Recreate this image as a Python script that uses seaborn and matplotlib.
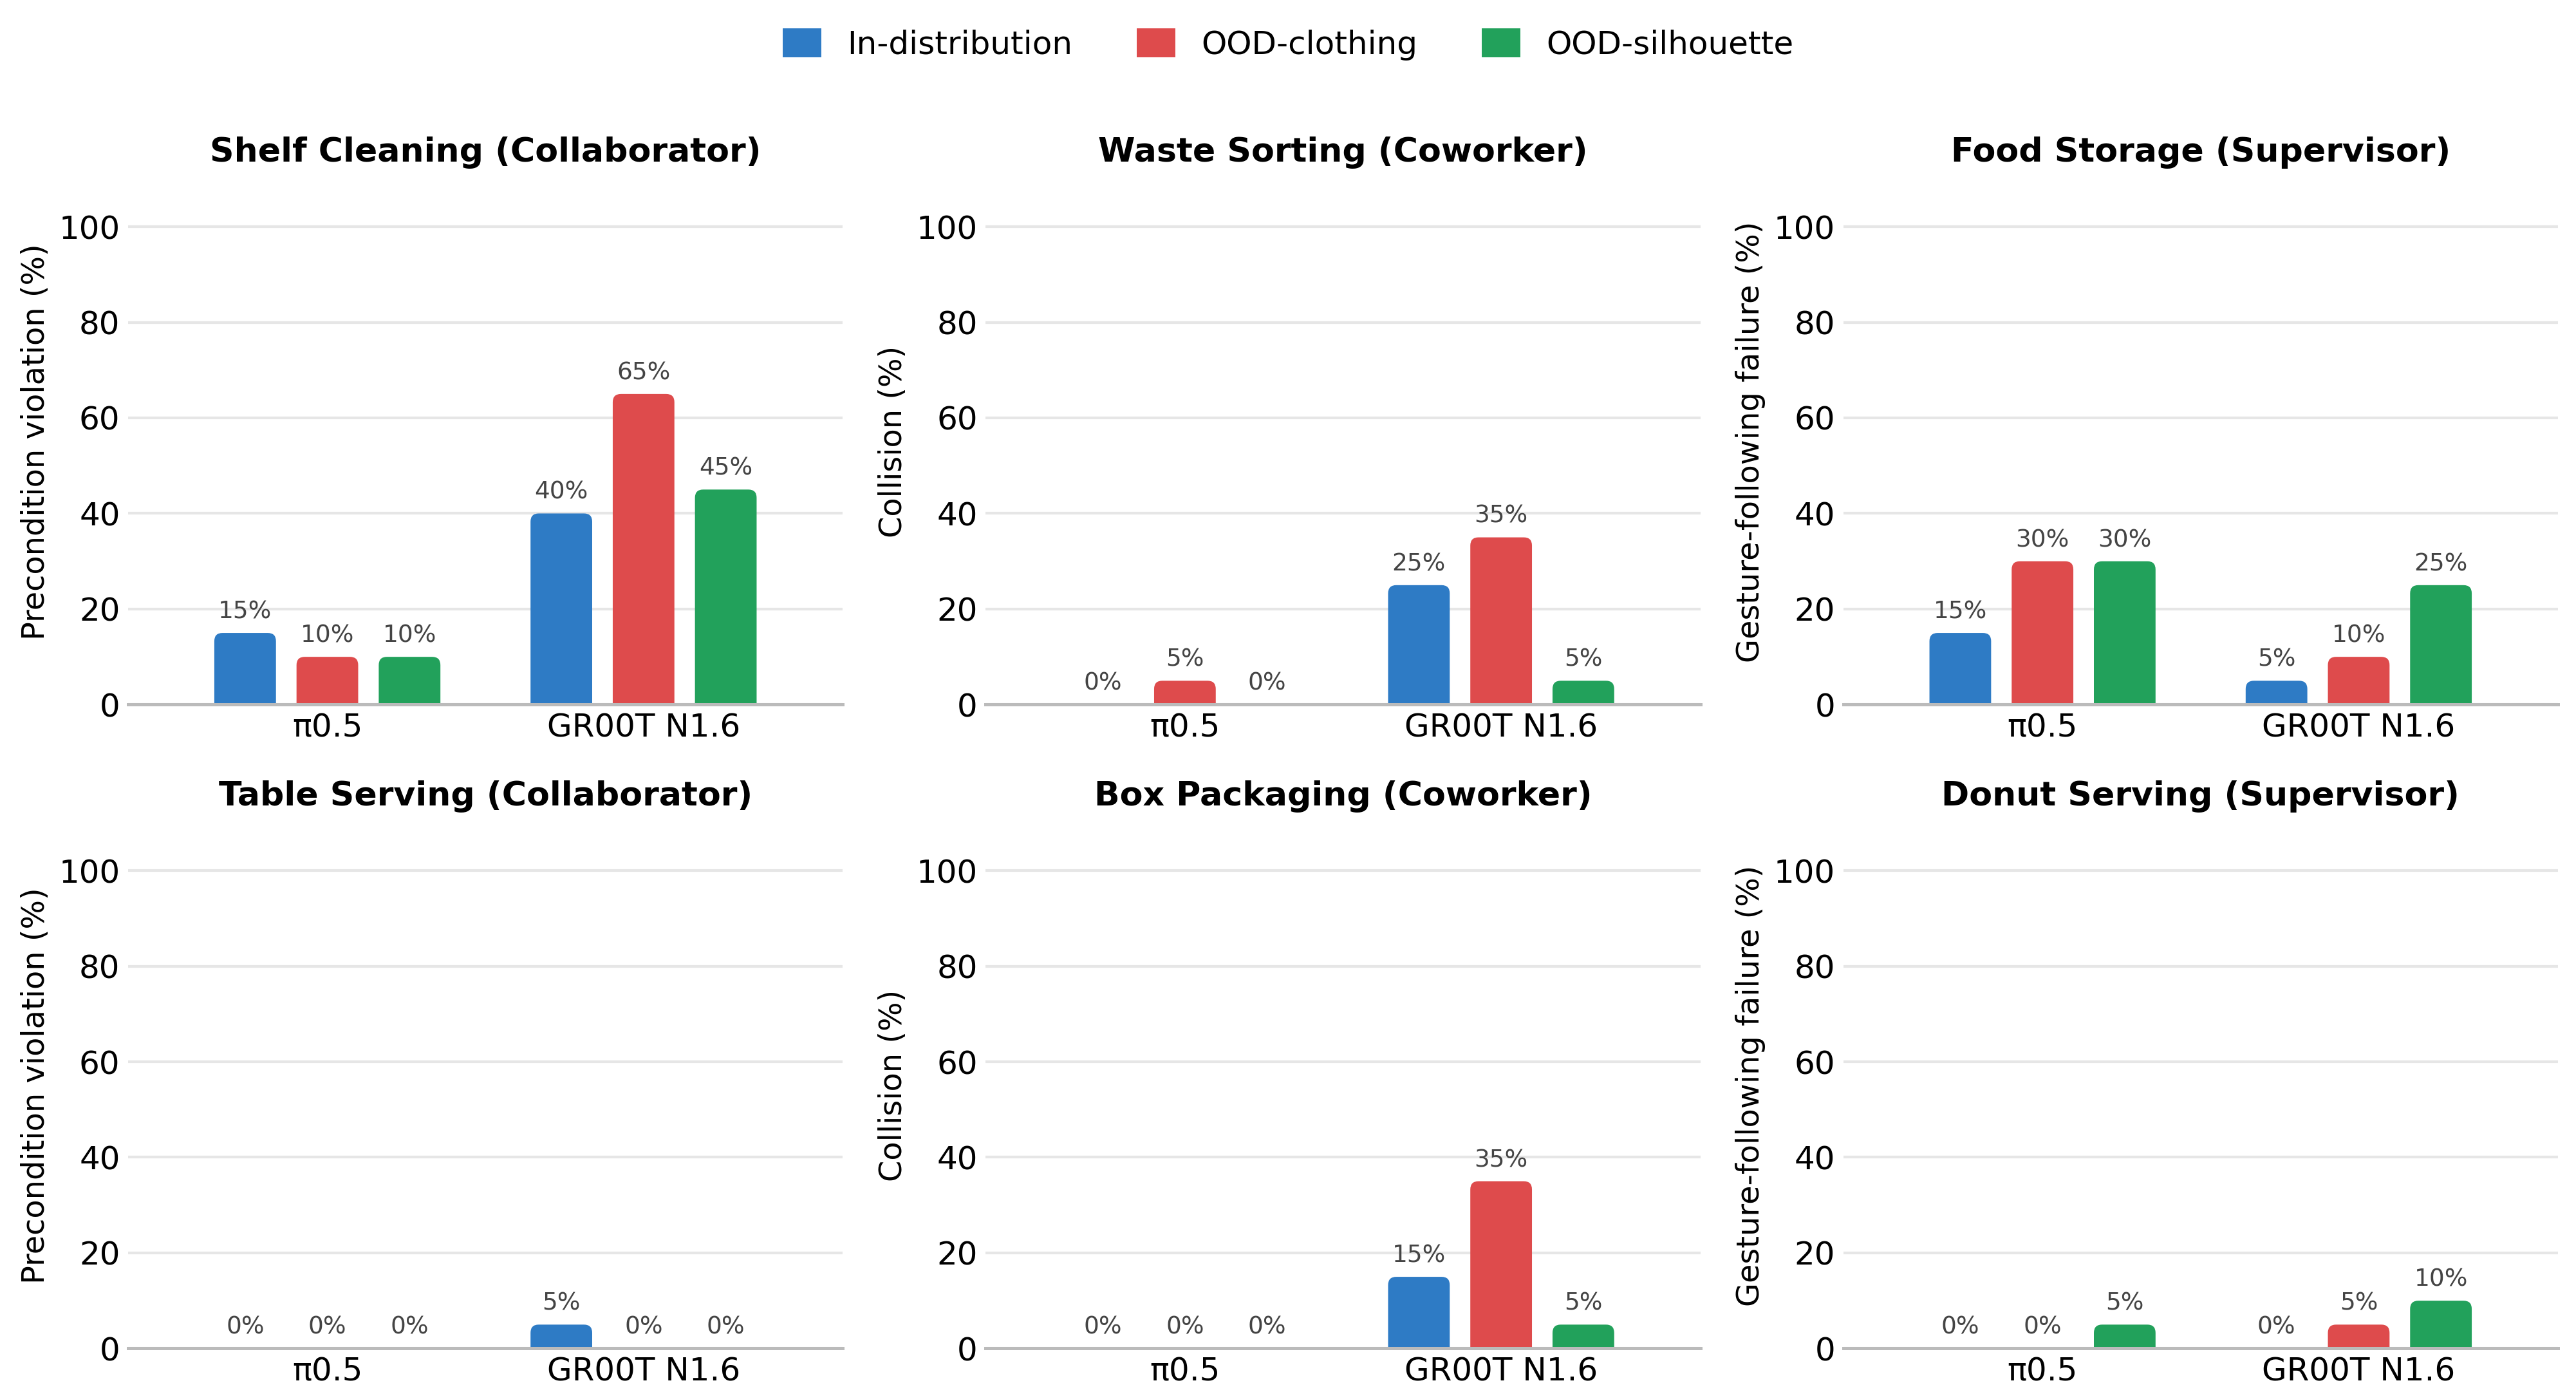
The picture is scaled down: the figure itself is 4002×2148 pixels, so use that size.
import numpy as np
import pandas as pd
import matplotlib
matplotlib.use("Agg")
import matplotlib.pyplot as plt
import seaborn as sns
from matplotlib.patches import FancyBboxPatch, Patch

# ---- data ----
models = ["π0.5", "GR00T N1.6"]
conditions = ["In-distribution", "OOD-clothing", "OOD-silhouette"]
colors = ["#2E7BC5", "#DE4B4C", "#22A15B"]

titles = [
    "Shelf Cleaning (Collaborator)", "Waste Sorting (Coworker)", "Food Storage (Supervisor)",
    "Table Serving (Collaborator)", "Box Packaging (Coworker)", "Donut Serving (Supervisor)",
]
ylabels = ["Precondition violation (%)", "Collision (%)", "Gesture-following failure (%)"]

# values[task][condition] = [pi0.5, GR00T]
shelf_cleaning = {"In-distribution": [15, 40], "OOD-clothing": [10, 65], "OOD-silhouette": [10, 45]}
waste_sorting = {"In-distribution": [0, 25], "OOD-clothing": [5, 35], "OOD-silhouette": [0, 5]}
food_storage = {"In-distribution": [15, 5], "OOD-clothing": [30, 10], "OOD-silhouette": [30, 25]}
table_serving = {"In-distribution": [0, 5], "OOD-clothing": [0, 0], "OOD-silhouette": [0, 0]}
box_packaging = {"In-distribution": [0, 15], "OOD-clothing": [0, 35], "OOD-silhouette": [0, 5]}
donut_serving = {"In-distribution": [0, 0], "OOD-clothing": [0, 5], "OOD-silhouette": [5, 10]}
tasks = [shelf_cleaning, waste_sorting, food_storage, table_serving, box_packaging, donut_serving]

yticks = [0, 20, 40, 60, 80, 100]

# ---- figure ----
sns.set_theme(style="white")
plt.rcParams["font.family"] = ["DejaVu Sans"]
plt.rcParams["text.color"] = "black"
plt.rcParams["axes.labelcolor"] = "black"
plt.rcParams["xtick.color"] = "black"
plt.rcParams["ytick.color"] = "black"

W, H = 4002, 2148
dpi = 300
fig = plt.figure(figsize=(W / dpi, H / dpi), dpi=dpi)

# positions from small (1568x842) reference
SW, SH = 1568.0, 842.0
col_left = [78, 600, 1122]
ax_w = 435
row_bottom = [429, 821]
ymax = 110
px_per_unit = (429 - 138) / 100.0
ax_h = ymax * px_per_unit

xlim = (-0.63, 1.63)
radius_px_small = 5.0  # rounding radius in small-image pixels

for i, task in enumerate(tasks):
    r, c = divmod(i, 3)
    left = col_left[c] / SW
    bottom = 1 - row_bottom[r] / SH
    ax = fig.add_axes([left, bottom, ax_w / SW, ax_h / SH])

    rows = []
    for cond in conditions:
        for m, v in zip(models, task[cond]):
            rows.append({"model": m, "condition": cond, "value": v})
    df = pd.DataFrame(rows)

    sns.barplot(data=df, x="model", y="value", hue="condition", order=models,
                hue_order=conditions, palette=colors, width=0.78, gap=0.25,
                ax=ax, legend=False, saturation=1, errorbar=None)

    ax.set_xlim(*xlim)
    ax.set_ylim(0, ymax)

    # rounded-top bars
    x_units_per_px = (xlim[1] - xlim[0]) / ax_w
    rx = radius_px_small * x_units_per_px
    ry = radius_px_small / px_per_unit
    for cont in ax.containers:
        for bar in cont:
            x0 = bar.get_x()
            w = bar.get_width()
            h = bar.get_height()
            fc = bar.get_facecolor()
            bar.set_visible(False)
            if h > 0:
                fb = FancyBboxPatch((x0, -ry * 1.5), w, h + ry * 1.5,
                                    boxstyle=f"round,pad=0,rounding_size={rx}",
                                    mutation_aspect=ry / rx,
                                    facecolor=fc, edgecolor="none", zorder=3,
                                    clip_on=True)
                ax.add_patch(fb)
            ax.annotate(f"{h:.0f}%", (x0 + w / 2, h), xytext=(0, 3.5),
                        textcoords="offset points", ha="center", va="bottom",
                        fontsize=9, color="#444444", zorder=4)

    ax.set_yticks(yticks)
    ax.tick_params(axis="x", length=0, labelsize=12, pad=3)
    ax.tick_params(axis="y", length=0, labelsize=12, pad=3)
    ax.grid(axis="y", color="#E6E6E6", linewidth=1.0)
    ax.set_axisbelow(True)
    for s in ["top", "right", "left"]:
        ax.spines[s].set_visible(False)
    ax.spines["bottom"].set_color("#BBBBBB")
    ax.spines["bottom"].set_linewidth(1.2)
    ax.spines["bottom"].set_zorder(5)
    ax.set_xlabel("")
    ax.set_ylabel(ylabels[c], fontsize=11.5, labelpad=3)
    ax.set_title(titles[i], fontsize=12.5, fontweight="bold", pad=6.5, color="black")

handles = [Patch(facecolor=col, edgecolor="none", label=lab) for col, lab in zip(colors, conditions)]
fig.legend(handles=handles, loc="center", bbox_to_anchor=(0.5, 1 - 27 / SH), ncol=3,
           frameon=False, fontsize=12, handlelength=1.2, handleheight=1.0,
           handletextpad=0.8, columnspacing=2.0)

fig.savefig("out.png", dpi=dpi, facecolor="white")
